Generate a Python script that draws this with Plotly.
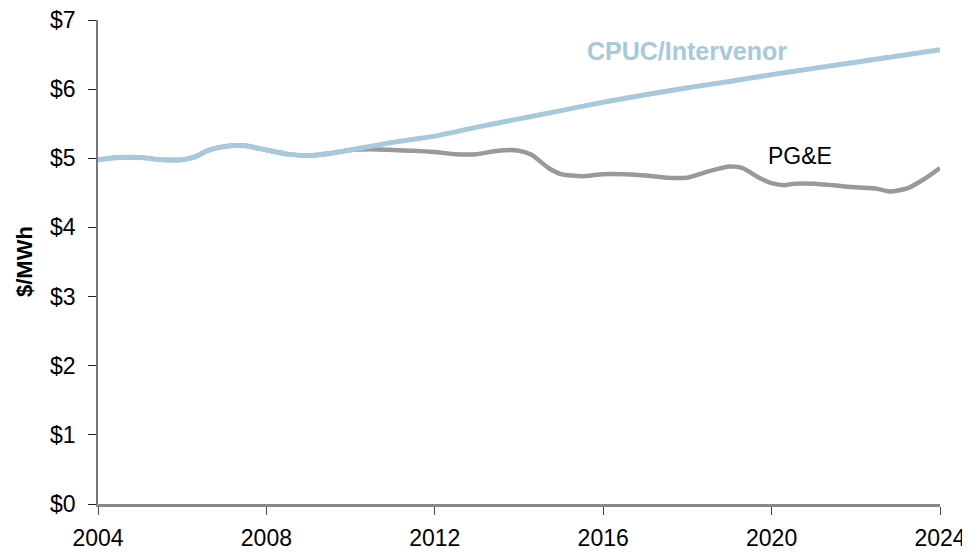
import plotly.graph_objects as go

# CPUC/Intervenor series
cpuc_years = [2004, 2004.5, 2005, 2005.5, 2006, 2006.3, 2006.6, 2007, 2007.5, 2008, 2008.5,
              2009, 2009.5, 2010, 2011, 2012, 2013, 2014, 2015, 2016, 2017, 2018, 2019,
              2020, 2021, 2022, 2023, 2024]
cpuc_vals = [4.98, 5.01, 5.01, 4.98, 4.98, 5.02, 5.11, 5.17, 5.18, 5.12, 5.06,
             5.04, 5.07, 5.12, 5.23, 5.32, 5.45, 5.57, 5.69, 5.81, 5.92, 6.02, 6.11,
             6.21, 6.30, 6.39, 6.48, 6.57]

# PG&E series
pge_years = [2004, 2004.5, 2005, 2005.5, 2006, 2006.3, 2006.6, 2007, 2007.5, 2008, 2008.5,
             2009, 2009.5, 2010, 2010.5, 2011, 2011.5, 2012, 2012.5, 2013, 2013.5, 2014,
             2014.3, 2014.7, 2015, 2015.5, 2016, 2017, 2017.5, 2018, 2018.5, 2019, 2019.3,
             2019.7, 2020, 2020.3, 2020.5, 2021, 2022, 2022.5, 2022.8, 2023.2, 2023.6, 2024]
pge_vals = [4.98, 5.01, 5.01, 4.98, 4.98, 5.02, 5.11, 5.17, 5.18, 5.12, 5.06,
            5.04, 5.07, 5.12, 5.13, 5.12, 5.11, 5.09, 5.06, 5.06, 5.11, 5.11,
            5.05, 4.86, 4.77, 4.74, 4.77, 4.75, 4.72, 4.72, 4.81, 4.88, 4.86,
            4.72, 4.64, 4.61, 4.63, 4.63, 4.58, 4.56, 4.52, 4.56, 4.69, 4.86]

y_tickvals = [0, 1, 2, 3, 4, 5, 6, 7]
y_ticktext = ["$0", "$1", "$2", "$3", "$4", "$5", "$6", "$7"]
x_tickvals = [2004, 2008, 2012, 2016, 2020, 2024]
x_ticktext = ["2004", "2008", "2012", "2016", "2020", "2024"]

FONT = "Liberation Sans, Arial, sans-serif"
BLUE = "#A6C9DC"
GRAY = "#999999"

fig = go.Figure()
fig.add_trace(go.Scatter(x=pge_years, y=pge_vals, mode="lines",
                         line=dict(color=GRAY, width=4.5, shape="spline", smoothing=0.6),
                         cliponaxis=False, name="PG&E", hoverinfo="skip"))
fig.add_trace(go.Scatter(x=cpuc_years, y=cpuc_vals, mode="lines",
                         line=dict(color=BLUE, width=5, shape="spline", smoothing=0.6),
                         cliponaxis=False, name="CPUC/Intervenor", hoverinfo="skip"))

fig.add_annotation(x=2017.98, y=6.55, xref="x", yref="y", text="<b>CPUC/Intervenor</b>",
                   showarrow=False, font=dict(family=FONT, size=25, color=BLUE),
                   xanchor="center", yanchor="middle")
fig.add_annotation(x=2020.67, y=5.03, xref="x", yref="y", text="PG&E",
                   showarrow=False, font=dict(family=FONT, size=23, color="black"),
                   xanchor="center", yanchor="middle")
fig.add_annotation(x=0, y=0.5, xref="paper", yref="paper", text="<b>$/MWh</b>",
                   textangle=-90, showarrow=False, xshift=-74,
                   font=dict(family=FONT, size=22, color="black"),
                   xanchor="center", yanchor="middle")

fig.update_layout(
    width=970, height=556,
    margin=dict(l=90, r=38, t=11.5, b=59.5, autoexpand=False),
    paper_bgcolor="white", plot_bgcolor="white",
    showlegend=False,
    font=dict(family=FONT, size=23, color="black"),
    xaxis=dict(range=[2004, 2024], tickvals=x_tickvals, ticktext=x_ticktext,
               showgrid=False, zeroline=False, showline=True, linecolor="#888888",
               linewidth=2.5, ticks="outside", ticklen=8, tickcolor="#444444",
               tickwidth=1, tickfont=dict(family=FONT, size=23), ticklabelstandoff=4,
               ticklabeloverflow="allow", automargin=False),
    yaxis=dict(range=[0, 7], tickvals=y_tickvals, ticktext=y_ticktext,
               showgrid=False, zeroline=False, showline=True, linecolor="#777777",
               linewidth=1.5, ticks="outside", ticklen=8, tickcolor="#222222",
               tickwidth=1, tickfont=dict(family=FONT, size=23), ticklabelstandoff=8,
               ticklabeloverflow="allow", automargin=False),
)

fig.write_html("out.html")
